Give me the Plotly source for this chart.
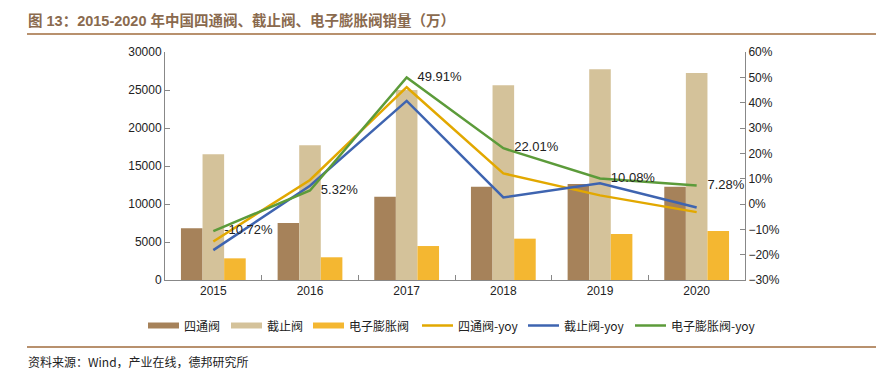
import plotly.graph_objects as go

years = ["2015", "2016", "2017", "2018", "2019", "2020"]
four_way = [6800, 7500, 10960, 12280, 12630, 12280]
stop_valve = [16540, 17720, 25000, 25610, 27720, 27240]
eev = [2850, 2990, 4470, 5440, 6050, 6450]
four_way_yoy = [-14.8, 9.5, 46.1, 12.1, 3.4, -3.2]
stop_yoy = [-18.2, 7.2, 40.7, 2.6, 8.2, -1.4]
eev_yoy = [-10.72, 5.32, 49.91, 22.01, 10.08, 7.28]
eev_labels = ["-10.72%", "5.32%", "49.91%", "22.01%", "10.08%", "7.28%"]

bar_names = ["四通阀", "截止阀", "电子膨胀阀"]
line_names = ["四通阀-yoy", "截止阀-yoy", "电子膨胀阀-yoy"]
bar_colors = ["#A6825A", "#D4C29A", "#F4B731"]
line_colors = ["#E2A800", "#3E64B0", "#5C9B3A"]

FONT = "Liberation Sans, Arial, Noto Sans CJK SC"
CJK = "Noto Sans CJK SC, Liberation Sans"

# page offset (body margin) and plot area in screen pixels
OFF = 8
L, R, T, B = 165, 745, 52, 280
W, H = 894 - OFF, 378 - OFF


def px(x):
    return (x - L) / (R - L)


def py(y):
    return (B - y) / (B - T)


fig = go.Figure()
for name, vals, col in zip(bar_names, [four_way, stop_valve, eev], bar_colors):
    fig.add_trace(go.Bar(x=years, y=vals, name=name, marker_color=col, marker_line_width=0))
for i, (name, vals, col) in enumerate(zip(line_names, [four_way_yoy, stop_yoy, eev_yoy], line_colors)):
    if i == 2:
        kw = dict(mode="lines+text", text=["   " + t for t in eev_labels],
                  textposition="middle right",
                  textfont=dict(size=13, color="#222222", family=FONT))
    else:
        kw = dict(mode="lines")
    fig.add_trace(go.Scatter(x=years, y=vals, name=name, yaxis="y2",
                             line=dict(color=col, width=2.5), **kw))

fig.update_layout(
    template="none",
    width=W, height=H,
    margin=dict(l=L - OFF, r=894 - R, t=T - OFF, b=378 - B, pad=0),
    paper_bgcolor="white", plot_bgcolor="white",
    barmode="group", bargap=0.33, bargroupgap=0,
    font=dict(family=FONT, size=12, color="#222222"),
    showlegend=False,
    xaxis=dict(type="category", showline=True, linecolor="#888888", linewidth=1,
               ticks="inside", tickson="boundaries", ticklen=5, tickcolor="#888888",
               showgrid=False, tickfont=dict(size=12), automargin=False),
    yaxis=dict(range=[0, 30000], dtick=5000, tickformat="d", showline=True,
               linecolor="#888888", linewidth=1, ticks="inside", ticklen=5,
               tickcolor="#888888", showgrid=False, zeroline=False,
               tickfont=dict(size=12), automargin=False),
    yaxis2=dict(range=[-30, 60], dtick=10, overlaying="y", side="right",
                showline=True, linecolor="#888888", linewidth=1, ticks="inside",
                ticklen=5, tickcolor="#888888", showgrid=False, zeroline=False,
                ticksuffix="%", tickfont=dict(size=12), automargin=False),
)

# title, rules, source
fig.add_annotation(xref="paper", yref="paper", x=px(26), y=py(20),
                   xanchor="left", yanchor="middle", showarrow=False,
                   text="<b>图 13：2015-2020 年中国四通阀、截止阀、电子膨胀阀销量（万）</b>",
                   font=dict(size=14.5, color="#8A6A4E", family="Liberation Sans, Noto Sans CJK SC"))
fig.add_annotation(xref="paper", yref="paper", x=px(26), y=py(361),
                   xanchor="left", yanchor="middle", showarrow=False,
                   text="资料来源：Wind，产业在线，德邦研究所",
                   font=dict(size=12, color="#222222", family=CJK))
for yline in (34, 347):
    fig.add_shape(type="line", xref="paper", yref="paper",
                  x0=px(27), x1=px(876), y0=py(yline), y1=py(yline),
                  line=dict(color="#B8916E", width=2))

# legend (drawn manually to match layout)
bar_swatch_x = [148, 231, 313]
line_swatch_x = [422, 528, 635]
leg_y = 325.5
for x0, name, col in zip(bar_swatch_x, bar_names, bar_colors):
    fig.add_shape(type="rect", xref="paper", yref="paper",
                  x0=px(x0), x1=px(x0 + 31), y0=py(leg_y - 3), y1=py(leg_y + 3),
                  fillcolor=col, line=dict(width=0))
    fig.add_annotation(xref="paper", yref="paper", x=px(x0 + 34), y=py(leg_y),
                       xanchor="left", yanchor="middle", showarrow=False, text=name,
                       font=dict(size=12, color="#222222", family=CJK))
for x0, name, col in zip(line_swatch_x, line_names, line_colors):
    fig.add_shape(type="line", xref="paper", yref="paper",
                  x0=px(x0), x1=px(x0 + 31), y0=py(leg_y), y1=py(leg_y),
                  line=dict(color=col, width=2.5))
    fig.add_annotation(xref="paper", yref="paper", x=px(x0 + 34), y=py(leg_y),
                       xanchor="left", yanchor="middle", showarrow=False, text=name,
                       font=dict(size=12, color="#222222", family=CJK))

fig.write_html("out.html")
